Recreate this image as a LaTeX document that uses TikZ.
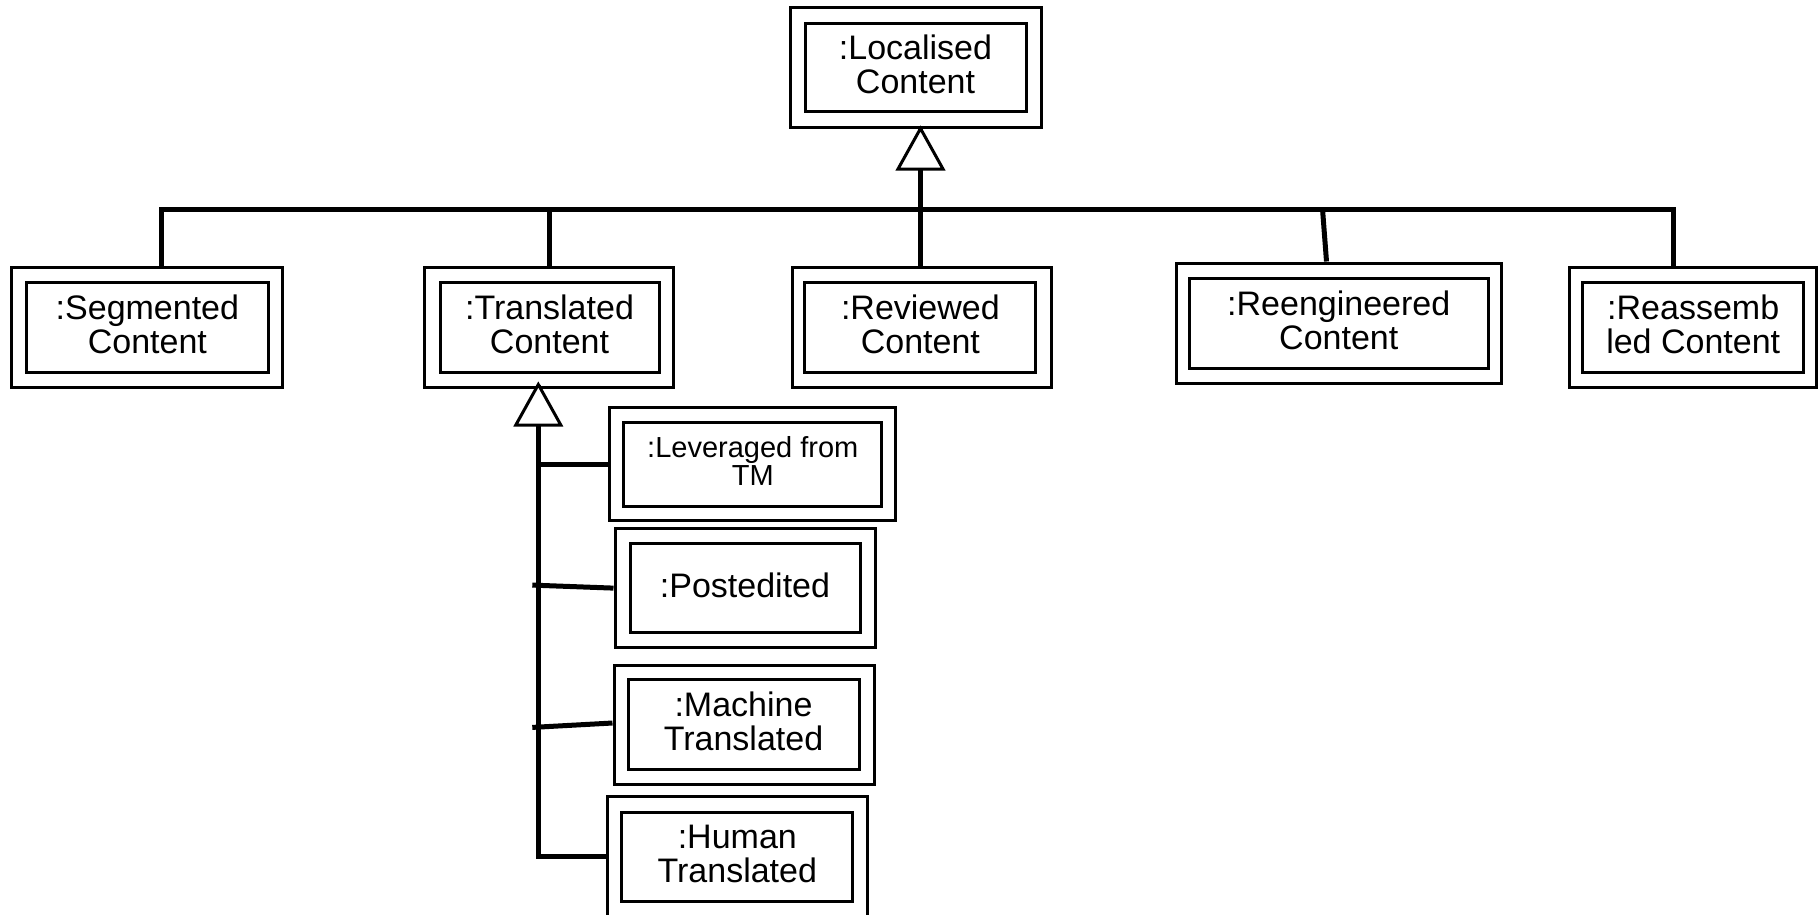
\documentclass[tikz,border=0pt]{standalone}
\usepackage{fontspec}
\setmainfont{Liberation Sans}
\begin{document}
\begin{tikzpicture}[x=1pt,y=-1pt,
  outerframe/.style={draw, line width=3pt, inner sep=0pt, fill=white},
  innerframe/.style={draw, line width=3pt, inner sep=0pt, align=center,
    text depth=6.5pt, font=\fontsize{34pt}{34pt}\selectfont},
  smalltext/.style={font=\fontsize{29pt}{28pt}\selectfont},
  link/.style={line width=5pt},
  genhead/.style={draw, line width=3pt, fill=white, line join=miter}]

\useasboundingbox (0,0) rectangle (1819,914);
\fill[white] (0,0) rectangle (1819,914);
\clip (0,0) rectangle (1819,914);

% top-level class
\node[outerframe, minimum width=251pt, minimum height=120pt] (loc) at (915.5,67) {};
\node[innerframe, minimum width=221pt, minimum height=88pt] (loc-in) at (915.5,67) {:Localised\\Content};

% first level
\node[outerframe, minimum width=271pt, minimum height=120pt] (seg) at (147,327) {};
\node[innerframe, minimum width=242pt, minimum height=90pt] (seg-in) at (147.4,327) {:Segmented\\Content};

\node[outerframe, minimum width=249pt, minimum height=120pt] (trans) at (549.3,327) {};
\node[innerframe, minimum width=219pt, minimum height=90pt] (trans-in) at (549.5,327) {:Translated\\Content};

\node[outerframe, minimum width=259pt, minimum height=120pt] (rev) at (921.5,327) {};
\node[innerframe, minimum width=231pt, minimum height=90pt] (rev-in) at (920.4,327) {:Reviewed\\Content};

\node[outerframe, minimum width=325pt, minimum height=120pt] (reng) at (1338.5,323) {};
\node[innerframe, minimum width=298.5pt, minimum height=90pt] (reng-in) at (1338.75,323) {:Reengineered\\Content};

\node[outerframe, minimum width=247.6pt, minimum height=120pt] (reas) at (1693,327) {};
\node[innerframe, minimum width=221pt, minimum height=90pt] (reas-in) at (1693.2,327) {:Reassemb\\led Content};

% kinds of translated content
\node[outerframe, minimum width=285.7pt, minimum height=113.5pt] (lev) at (752.8,464.2) {};
\node[innerframe, smalltext, minimum width=257.7pt, minimum height=84.4pt] (lev-in) at (752.8,464.2) {:Leveraged from\\TM};

\node[outerframe, minimum width=260pt, minimum height=119pt] (post) at (745,588.1) {};
\node[innerframe, minimum width=230pt, minimum height=89pt] (post-in) at (745,588.1) {:Postedited};

\node[outerframe, minimum width=260pt, minimum height=119pt] (mach) at (744,724.5) {};
\node[innerframe, minimum width=231pt, minimum height=89.5pt] (mach-in) at (743.5,724.3) {:Machine\\Translated};

% the lowest box runs past the lower edge
\node[outerframe, minimum width=260.4pt, minimum height=126pt] (hum) at (737.5,859.7) {};
\node[innerframe, minimum width=230.7pt, minimum height=89.7pt] (hum-in) at (737.3,856.9) {:Human\\Translated};

% shared bus of the first level
\coordinate (bus) at (0,209);
\coordinate (segtop) at ([xshift=14.6pt]seg.north);
\coordinate (reastop) at ([xshift=-20pt]reas.north);
\coordinate (revtop) at ([xshift=-1pt]rev.north);
\draw[link] (segtop) |- (bus -| reastop) -- (reastop);
\draw[link] (trans.north) -- (trans.north |- bus);
\draw[link] ([xshift=-12pt]reng.north) -- ([xshift=-16pt]reng.north |- bus);
\draw[link] (loc.south -| revtop) -- (revtop);
\draw[genhead] (loc.south -| revtop) -- ++(-22.5,40.5) -- ++(45,0) -- cycle;

% trunk below the translated content
\coordinate (tapex) at ([xshift=-11pt,yshift=4pt]trans.south);
\draw[link] (tapex) |- (hum-in.west -| hum.west);
\draw[link] (lev.west) -- (lev.west -| tapex);
\draw[link] (post.west) -- ([xshift=-6pt,yshift=3pt]post.west -| tapex);
\draw[link] ([yshift=1.5pt]mach.west) -- ([xshift=-6pt,yshift=-2.9pt]mach.west -| tapex);
\draw[genhead] (tapex) -- ++(-22.5,40.5) -- ++(45,0) -- cycle;

\end{tikzpicture}
\end{document}
